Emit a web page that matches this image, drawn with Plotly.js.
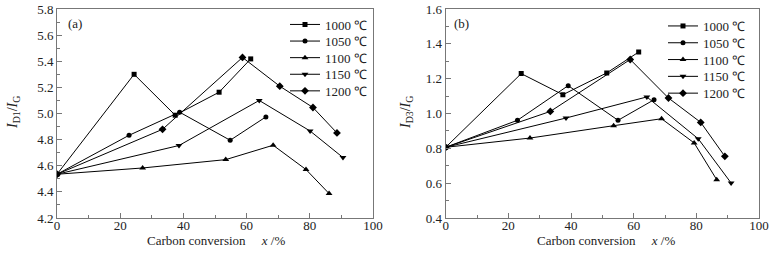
<!DOCTYPE html>
<html>
<head>
<meta charset="utf-8">
<script src="https://cdn.plot.ly/plotly-3.0.1.min.js"></script>
<style>html,body{margin:0;padding:0;background:#fff;}#chart{width:773px;height:255px;}</style>
</head>
<body>
<div id="chart"></div>
<script>
// ---- data ----
const seriesNames = ['1000 ℃', '1050 ℃', '1100 ℃', '1150 ℃', '1200 ℃'];
const xTicks = [0, 20, 40, 60, 80, 100];

// panel (a): I_D1/I_G
const a1000x = [0, 24.4, 37.4, 51.3, 61.3];
const a1000y = [4.535, 5.30, 4.987, 5.163, 5.418];
const a1050x = [0, 22.8, 38.8, 54.8, 66.1];
const a1050y = [4.535, 4.833, 5.01, 4.795, 4.974];
const a1100x = [0, 27.1, 53.4, 68.4, 78.8, 86.1];
const a1100y = [4.535, 4.583, 4.647, 4.757, 4.571, 4.387];
const a1150x = [0, 38.6, 64.0, 80.1, 90.5];
const a1150y = [4.535, 4.755, 5.10, 4.866, 4.663];
const a1200x = [0, 33.4, 58.7, 70.5, 81.0, 88.6];
const a1200y = [4.535, 4.879, 5.429, 5.209, 5.046, 4.851];

// panel (b): I_D3/I_G
const b1000x = [0, 24.1, 37.4, 51.4, 61.6];
const b1000y = [0.806, 1.229, 1.108, 1.233, 1.353];
const b1050x = [0, 22.9, 39.1, 55.0, 66.5];
const b1050y = [0.806, 0.961, 1.16, 0.961, 1.079];
const b1100x = [0, 26.9, 53.6, 68.9, 79.3, 86.5];
const b1100y = [0.806, 0.859, 0.93, 0.970, 0.831, 0.62];
const b1150x = [0, 38.4, 64.2, 80.6, 91.1];
const b1150y = [0.806, 0.974, 1.095, 0.855, 0.601];
const b1200x = [0, 33.4, 58.9, 71.1, 81.4, 89.1];
const b1200y = [0.806, 1.012, 1.31, 1.089, 0.949, 0.754];

// ---- styling ----
const FONT = 'Liberation Serif';
const symbols = ['square', 'circle', 'triangle-up', 'triangle-down', 'diamond'];
const msizes = [5, 5, 6, 6, 6];

const panelA = [[a1000x,a1000y],[a1050x,a1050y],[a1100x,a1100y],[a1150x,a1150y],[a1200x,a1200y]];
const panelB = [[b1000x,b1000y],[b1050x,b1050y],[b1100x,b1100y],[b1150x,b1150y],[b1200x,b1200y]];

const traces = [];
panelA.forEach((s, i) => {
  traces.push({
    x: s[0], y: s[1], type: 'scatter', mode: 'lines+markers', name: seriesNames[i],
    xaxis: 'x', yaxis: 'y', legend: i === 0 ? 'legend' : 'legend' + (i + 1), showlegend: true,
    line: {color: '#000', width: 1},
    marker: {symbol: symbols[i], size: msizes[i], color: '#000'}
  });
});
panelB.forEach((s, i) => {
  traces.push({
    x: s[0], y: s[1], type: 'scatter', mode: 'lines+markers', name: seriesNames[i],
    xaxis: 'x2', yaxis: 'y2', legend: 'legend' + (i + 6), showlegend: true,
    line: {color: '#000', width: 1},
    marker: {symbol: symbols[i], size: msizes[i], color: '#000'}
  });
});

const L = 57, T = 9, B = 37, R = 14, W = 773, H = 255;
const PW = W - L - R, PH = H - T - B;
const px2x = p => (p - L) / PW;
const py2y = p => (H - B - p) / PH;

const axisCommon = {
  showgrid: false, zeroline: false, showline: true, linecolor: '#777', linewidth: 1,
  mirror: true, ticks: 'inside', ticklen: 5, tickcolor: '#777', tickwidth: 1,
  tickfont: {family: FONT, size: 13, color: '#222'}
};

const layout = {
  width: W, height: H, showlegend: true,
  margin: {l: L, r: R, t: T, b: B},
  paper_bgcolor: '#fff', plot_bgcolor: '#fff',
  font: {family: FONT, size: 13, color: '#222'},
  xaxis: Object.assign({}, axisCommon, {domain: [0, px2x(373)], range: [0, 100], tickvals: xTicks, ticklabelstandoff: -5,
    minor: {dtick: 10, ticks: 'inside', ticklen: 3, tickcolor: '#777'}, anchor: 'y'}),
  yaxis: Object.assign({}, axisCommon, {domain: [0, 1], range: [4.2, 5.8], dtick: 0.2, tick0: 4.2, tickformat: '.1f',
    minor: {dtick: 0.1, ticks: 'inside', ticklen: 3, tickcolor: '#777'}, anchor: 'x'}),
  xaxis2: Object.assign({}, axisCommon, {domain: [px2x(445.7), 1], range: [0, 100], tickvals: xTicks, ticklabelstandoff: -5,
    minor: {dtick: 10, ticks: 'inside', ticklen: 3, tickcolor: '#777'}, anchor: 'y2'}),
  yaxis2: Object.assign({}, axisCommon, {domain: [0, 1], range: [0.4, 1.6], dtick: 0.2, tick0: 0.4, tickformat: '.1f',
    minor: {dtick: 0.1, ticks: 'inside', ticklen: 3, tickcolor: '#777'}, anchor: 'x2'}),
  annotations: [
    {text: '(a)', xref: 'paper', yref: 'paper', x: px2x(75), y: py2y(23), showarrow: false, xanchor: 'center', yanchor: 'middle', font: {family: FONT, size: 13, color: '#222'}},
    {text: '(b)', xref: 'paper', yref: 'paper', x: px2x(462), y: py2y(23), showarrow: false, xanchor: 'center', yanchor: 'middle', font: {family: FONT, size: 13, color: '#222'}},
    {text: '<i>I</i><sub>D1</sub>/<i>I</i><sub>G</sub>', xref: 'paper', yref: 'paper', x: px2x(13), y: py2y(113), textangle: -90, showarrow: false, xanchor: 'center', yanchor: 'middle', font: {family: FONT, size: 14, color: '#222'}},
    {text: '<i>I</i><sub>D3</sub>/<i>I</i><sub>G</sub>', xref: 'paper', yref: 'paper', x: px2x(406), y: py2y(113), textangle: -90, showarrow: false, xanchor: 'center', yanchor: 'middle', font: {family: FONT, size: 14, color: '#222'}},
    {text: 'Carbon conversion\u00A0\u00A0\u00A0\u00A0\u00A0<i>x</i> /%', xref: 'paper', yref: 'paper', x: px2x(215.5), y: py2y(240.5), showarrow: false, xanchor: 'center', yanchor: 'middle', font: {family: FONT, size: 13, color: '#222'}},
    {text: 'Carbon conversion\u00A0\u00A0\u00A0\u00A0\u00A0<i>x</i> /%', xref: 'paper', yref: 'paper', x: px2x(606), y: py2y(240.5), showarrow: false, xanchor: 'center', yanchor: 'middle', font: {family: FONT, size: 13, color: '#222'}}
  ]
};

// one legend per entry, so the rows can be spaced like the reference
const legA_left = 285, legB_left = 663;
const rowsA = [24.5, 41.1, 57.7, 74.3, 90.9];
const rowsB = [26, 42.8, 59.6, 76.4, 93.2];
function legendDef(leftPx, rowPx) {
  return {
    visible: true,
    xref: 'paper', yref: 'paper', x: px2x(leftPx), y: py2y(rowPx), xanchor: 'left', yanchor: 'middle',
    bgcolor: 'rgba(0,0,0,0)', borderwidth: 0, font: {family: FONT, size: 13, color: '#222'},
    itemclick: false, itemdoubleclick: false
  };
}
for (let i = 0; i < 5; i++) {
  layout[i === 0 ? 'legend' : 'legend' + (i + 1)] = legendDef(legA_left, rowsA[i]);
  layout['legend' + (i + 6)] = legendDef(legB_left, rowsB[i]);
}

Plotly.newPlot('chart', traces, layout, {staticPlot: true, displayModeBar: false});
</script>
</body>
</html>
